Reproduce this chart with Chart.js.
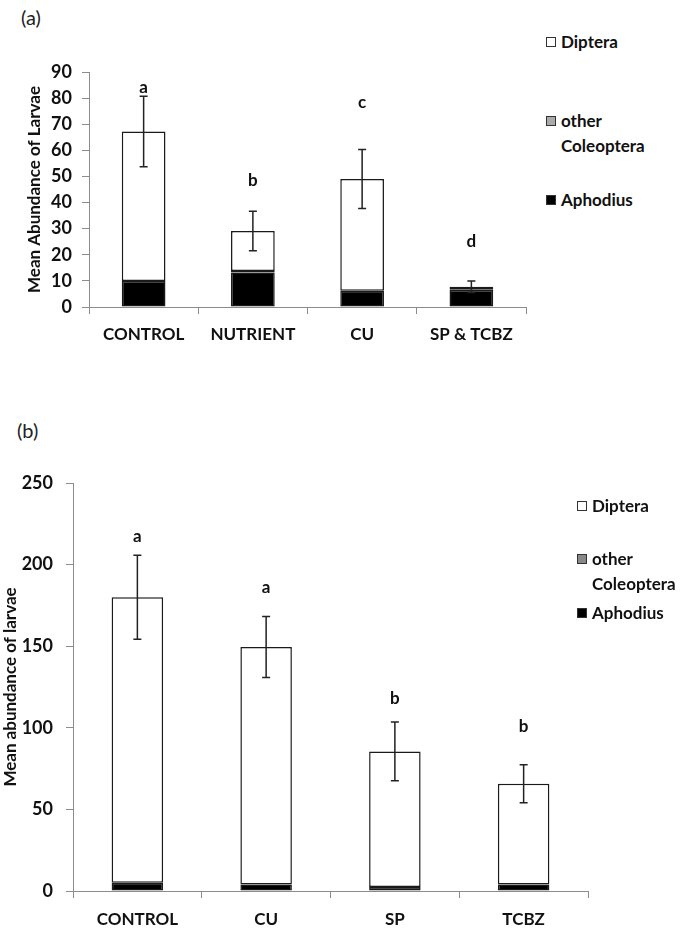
<!DOCTYPE html>
<html>
<head>
<meta charset="utf-8">
<script src="https://cdn.jsdelivr.net/npm/chart.js@4.4.1/dist/chart.umd.min.js"></script>
<style>
  body { margin:0; background:#fff; width:685px; height:929px; position:relative; overflow:hidden; font-family:Lato, sans-serif; }
  canvas { position:absolute; left:0; }
  .panel { position:absolute; font-size:20px; color:#222; line-height:24px; }
  .leg { position:absolute; font-weight:bold; font-size:17px; color:#111; line-height:25px; white-space:nowrap; }
  .box { position:absolute; width:8px; height:8px; border:1px solid #333; }
</style>
</head>
<body>
<div class="panel" style="left:21px;top:5px">(a)</div>
<div class="panel" style="left:17px;top:418px">(b)</div>

<canvas id="chartA" width="540" height="350" style="top:0"></canvas>
<canvas id="chartB" width="600" height="489" style="top:440px"></canvas>

<!-- legend (a) -->
<div class="box" style="left:546px;top:37px;background:#fff"></div>
<div class="leg" style="left:561px;top:29px">Diptera</div>
<div class="box" style="left:546px;top:116px;background:#aaa"></div>
<div class="leg" style="left:561px;top:108px">other<br>Coleoptera</div>
<div class="box" style="left:546px;top:195px;background:#000"></div>
<div class="leg" style="left:561px;top:187px">Aphodius</div>

<!-- legend (b) -->
<div class="box" style="left:577px;top:501px;background:#fff"></div>
<div class="leg" style="left:592px;top:493px">Diptera</div>
<div class="box" style="left:577px;top:554px;background:#888"></div>
<div class="leg" style="left:592px;top:546px">other<br>Coleoptera</div>
<div class="box" style="left:577px;top:608px;background:#000"></div>
<div class="leg" style="left:592px;top:600px">Aphodius</div>

<script>
// (a) larvae by treatment
const catsA = ['CONTROL', 'NUTRIENT', 'CU', 'SP & TCBZ'];
const aphodiusA = [10, 13.2, 6.2, 6.5];
const otherColA = [0, 0.6, 0, 0.1];
const dipteraA = [57.2, 15.3, 42.8, 1.2];
const errA = [13.5, 7.6, 11.3, 2.2];
const lettersA = ['a', 'b', 'c', 'd'];
const letterAtA = [84, 48.3, 78.2, 24.9];

// (b)
const catsB = ['CONTROL', 'CU', 'SP', 'TCBZ'];
const aphodiusB = [5, 4, 2.5, 4];
const otherColB = [0, 0, 0, 0];
const dipteraB = [175, 145.5, 83, 61.7];
const errB = [25.7, 18.7, 18, 11.6];
const lettersB = ['a', 'a', 'b', 'b'];
const letterAtB = [217.5, 185.7, 118, 100.5];

const FONT = 'Lato, sans-serif';

// error bars + significance letters
const errorBars = {
  id: 'errorBars',
  afterDatasetsDraw(chart, args, opts) {
    const { ctx, scales: { x, y } } = chart;
    ctx.save();
    ctx.strokeStyle = '#222';
    ctx.lineWidth = 1.5;
    opts.err.forEach((e, i) => {
      const tot = chart.data.datasets.reduce((s, d) => s + d.data[i], 0);
      const px = x.getPixelForValue(i);
      const yt = y.getPixelForValue(tot + e), yb = y.getPixelForValue(tot - e);
      ctx.beginPath();
      ctx.moveTo(px, yt); ctx.lineTo(px, yb);
      ctx.moveTo(px - 4, yt); ctx.lineTo(px + 4, yt);
      ctx.moveTo(px - 4, yb); ctx.lineTo(px + 4, yb);
      ctx.stroke();
    });
    ctx.font = 'bold 17px ' + FONT;
    ctx.textAlign = 'center';
    ctx.textBaseline = 'middle';
    ctx.fillStyle = '#111';
    opts.letters.forEach((l, i) => {
      ctx.fillText(l, x.getPixelForValue(i), y.getPixelForValue(opts.letterAt[i]));
    });
    ctx.restore();
  }
};

function makeChart(id, cats, aph, oth, dip, err, letters, letterAt, yMax, step, title, lay) {
  // no outline on empty segments
  const bar = {
    borderColor: '#1a1a1a',
    borderWidth: c => (c.raw ? 1.5 : 0),
    borderSkipped: false,
    barPercentage: 0.4,
    categoryPercentage: 1
  };
  const axisGrid = { display: true, drawOnChartArea: false, drawTicks: true, tickLength: 7, color: '#8c8c8c' };
  return new Chart(document.getElementById(id), {
    type: 'bar',
    data: {
      labels: cats,
      datasets: [
        { label: 'Aphodius', data: aph, backgroundColor: '#000', ...bar },
        { label: 'other Coleoptera', data: oth, backgroundColor: '#999', ...bar },
        { label: 'Diptera', data: dip, backgroundColor: '#fff', ...bar }
      ]
    },
    options: {
      responsive: false,
      animation: false,
      devicePixelRatio: 1,
      layout: { padding: { top: lay.top, right: lay.right, left: 0, bottom: 0 } },
      plugins: {
        legend: { display: false },
        tooltip: { enabled: false },
        errorBars: { err, letters, letterAt }
      },
      scales: {
        x: {
          stacked: true,
          grid: { ...axisGrid, offset: true },
          border: { color: '#8c8c8c' },
          ticks: { font: { family: FONT, size: 17, weight: 'bold' }, color: '#111', padding: lay.xPad, maxRotation: 0, autoSkip: false },
          afterFit(s) { s.height = lay.xH; }
        },
        y: {
          stacked: true,
          min: 0, max: yMax,
          ticks: { stepSize: step, font: { family: FONT, size: 18, weight: 'bold' }, color: '#111', padding: lay.yPad },
          grid: axisGrid,
          border: { color: '#8c8c8c' },
          title: { display: true, text: title, font: { family: FONT, size: 17, weight: 'bold' }, color: '#111', padding: { top: lay.tPad, bottom: 0 } },
          afterFit(s) { s.width = lay.yW; }
        }
      }
    },
    plugins: [errorBars]
  });
}

makeChart('chartA', catsA, aphodiusA, otherColA, dipteraA, errA, lettersA, letterAtA, 90, 10,
  'Mean Abundance of Larvae', { top: 72, right: 14, xH: 43, yW: 89, xPad: 10, yPad: 10, tPad: 24 });
makeChart('chartB', catsB, aphodiusB, otherColB, dipteraB, errB, lettersB, letterAtB, 250, 50,
  'Mean abundance of larvae', { top: 43, right: 12, xH: 38, yW: 73, xPad: 11, yPad: 13, tPad: 0 });
</script>
</body>
</html>
